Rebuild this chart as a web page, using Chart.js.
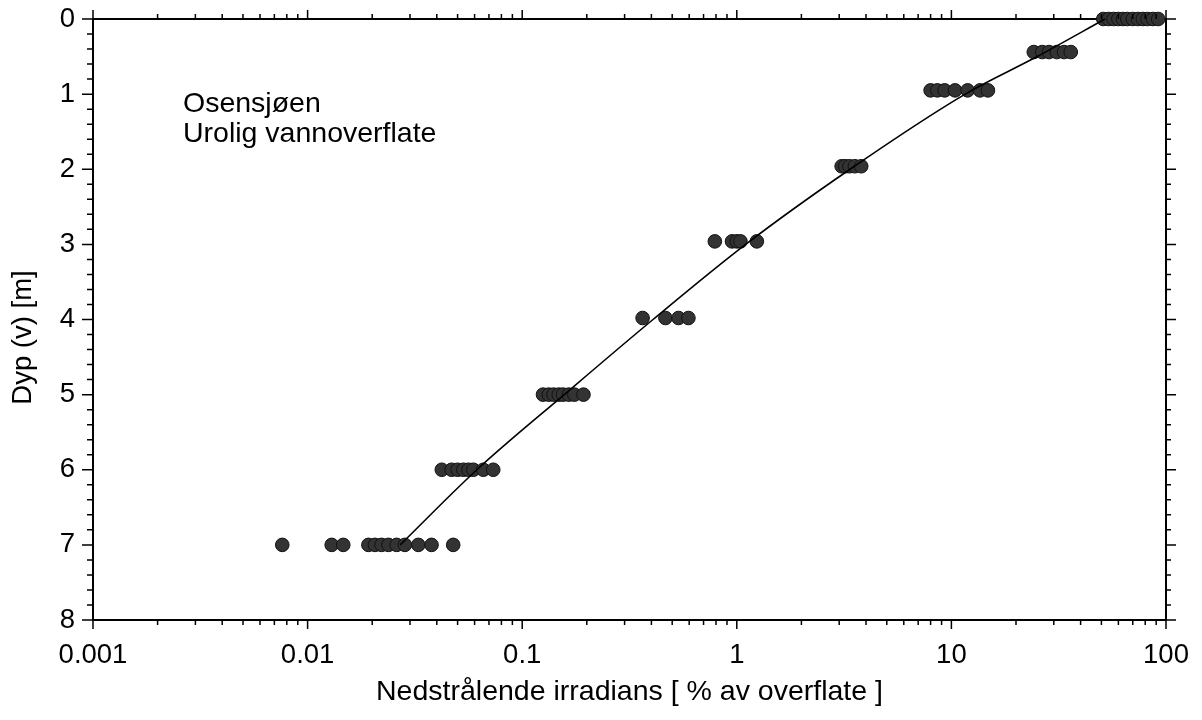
<!DOCTYPE html>
<html>
<head>
<meta charset="utf-8">
<script src="https://cdn.jsdelivr.net/npm/chart.js@4.4.1/dist/chart.umd.min.js"></script>
<style>
html,body{margin:0;padding:0;background:#fff;}
#wrap{width:1202px;height:720px;position:relative;}
</style>
</head>
<body>
<div id="wrap"><canvas id="c" width="1202" height="720"></canvas></div>
<script>
// ---- data ----
const xTickLabels = ['0.001', '0.01', '0.1', '1', '10', '100'];
const yTickLabels = ['0', '1', '2', '3', '4', '5', '6', '7', '8'];

// measured depths of each profile level [m]
const rowDepths = [0, 0.44, 0.95, 1.96, 2.96, 3.98, 5.0, 6.0, 7.0];
// measured downwelling irradiance at each level [% of surface]
const irr0m   = [51, 54, 57, 60, 63, 66, 70, 74, 78, 82, 87, 92];
const irr044m = [24.2, 26.5, 28.5, 31, 33.5, 36];
const irr095m = [8.0, 8.6, 9.3, 10.4, 11.9, 13.6, 14.8];
const irr196m = [3.08, 3.2, 3.35, 3.55, 3.8];
const irr296m = [0.79, 0.95, 1.0, 1.04, 1.24];
const irr398m = [0.364, 0.465, 0.535, 0.595];
const irr5m   = [0.125, 0.133, 0.14, 0.148, 0.155, 0.165, 0.175, 0.193];
const irr6m   = [0.0422, 0.0469, 0.05, 0.0532, 0.0562, 0.0592, 0.0659, 0.0733];
const irr7m   = [0.00762, 0.01295, 0.01466, 0.0192, 0.0206, 0.0221, 0.0238, 0.026, 0.0284, 0.0328, 0.0378, 0.0477];

// fitted curve drawn through the profile
const fitDepth = [7, 6, 5, 4, 3, 2, 1, 0.5, 0];
const fitIrr   = [0.027, 0.0615, 0.157, 0.407, 1.10, 3.37, 11.6, 25.1, 52];

const annotationLines = ['Osensjøen', 'Urolig vannoverflate'];
const xTitle = 'Nedstrålende irradians [ % av overflate ]';
const yTitle = 'Dyp (v) [m]';

// ---- build library data ----
const rows = [irr0m, irr044m, irr095m, irr196m, irr296m, irr398m, irr5m, irr6m, irr7m];
const obsPoints = [];
rows.forEach((arr, i) => arr.forEach(v => obsPoints.push({x: v, y: rowDepths[i]})));
const fitPoints = fitIrr.map((v, i) => ({x: v, y: fitDepth[i]})).sort((a, b) => a.x - b.x);

const FONT = 'Liberation Sans, Arial, Helvetica, sans-serif';

const tickMarks = {
  id: 'tickMarks',
  afterDraw(chart) {
    const ctx = chart.ctx;
    const ca = chart.chartArea;
    const xs = chart.scales.x, ys = chart.scales.y;
    ctx.save();
    ctx.strokeStyle = '#000';
    ctx.lineWidth = 1.5;
    ctx.beginPath();
    // log ticks on bottom and top
    for (let d = -3; d <= 2; d++) {
      for (let m = 1; m <= 9; m++) {
        const v = m * Math.pow(10, d);
        if (v > 100.0001) break;
        const px = xs.getPixelForValue(v);
        const major = m === 1;
        const lb = major ? 9 : 5;
        ctx.moveTo(px, ca.bottom); ctx.lineTo(px, ca.bottom + lb);
        ctx.moveTo(px, ca.top); ctx.lineTo(px, ca.top - lb);
      }
    }
    // linear ticks on left and right
    for (let k = 0; k <= 40; k++) {
      const v = k * 0.2;
      const py = ys.getPixelForValue(v);
      const major = k % 5 === 0;
      const ll = major ? 11 : 6;
      const lr = major ? 10 : 5;
      ctx.moveTo(ca.left, py); ctx.lineTo(ca.left - ll, py);
      ctx.moveTo(ca.right, py); ctx.lineTo(ca.right + lr, py);
    }
    ctx.stroke();

    ctx.fillStyle = '#000';
    // y-axis title (rotated), centred a little below the plot middle as in the reference
    ctx.save();
    ctx.font = '27.5px ' + FONT;
    ctx.textAlign = 'center';
    ctx.textBaseline = 'middle';
    ctx.translate(23, (ca.top + ca.bottom) / 2 + 18);
    ctx.rotate(-Math.PI / 2);
    ctx.fillText(yTitle, 0, 0);
    ctx.restore();

    // annotation text
    ctx.font = '28.5px ' + FONT;
    ctx.textAlign = 'left';
    ctx.textBaseline = 'alphabetic';
    annotationLines.forEach((t, i) => {
      ctx.fillText(t, ca.left + 90, ca.top + 93 + i * 30);
    });
    ctx.restore();
  }
};

new Chart(document.getElementById('c'), {
  type: 'scatter',
  data: {
    datasets: [
      {
        type: 'line',
        data: fitPoints,
        borderColor: '#000',
        borderWidth: 1.6,
        pointRadius: 0,
        fill: false,
        cubicInterpolationMode: 'monotone',
        clip: false
      },
      {
        data: obsPoints,
        pointRadius: 6.8,
        pointBackgroundColor: '#333',
        pointBorderColor: '#111',
        pointBorderWidth: 1,
        clip: false
      }
    ]
  },
  options: {
    responsive: false,
    animation: false,
    devicePixelRatio: 1,
    layout: {padding: 0},
    plugins: {legend: {display: false}, tooltip: {enabled: false}},
    scales: {
      x: {
        type: 'logarithmic',
        position: 'bottom',
        min: 0.001,
        max: 100,
        grid: {display: false, drawTicks: true, tickLength: 19, tickColor: 'rgba(0,0,0,0)'},
        border: {display: true, color: '#000', width: 2},
        ticks: {
          autoSkip: false,
          maxRotation: 0,
          padding: 0,
          color: '#000',
          font: {family: FONT, size: 27.5},
          callback: (v) => {
            const l = Math.log10(v);
            if (Math.abs(l - Math.round(l)) < 1e-9) {
              const idx = Math.round(l) + 3;
              return xTickLabels[idx] !== undefined ? xTickLabels[idx] : '';
            }
            return '';
          }
        },
        title: {
          display: true,
          text: xTitle,
          color: '#000',
          font: {family: FONT, size: 28.5},
          padding: {top: 0, bottom: 11}
        },
        afterFit: (s) => { s.height = 100; }
      },
      x2: {
        type: 'logarithmic',
        position: 'top',
        min: 0.001,
        max: 100,
        grid: {display: false, drawTicks: false},
        border: {display: true, color: '#000', width: 2},
        ticks: {display: false},
        afterFit: (s) => { s.height = 19; }
      },
      y: {
        type: 'linear',
        position: 'left',
        min: 0,
        max: 8,
        reverse: true,
        grid: {display: false, drawTicks: true, tickLength: 18, tickColor: 'rgba(0,0,0,0)'},
        border: {display: true, color: '#000', width: 2},
        ticks: {
          stepSize: 1,
          padding: 0,
          color: '#000',
          font: {family: FONT, size: 27.5},
          callback: (v) => yTickLabels[Math.round(v)] !== undefined ? yTickLabels[Math.round(v)] : ''
        },
        title: {display: false, text: yTitle},
        afterFit: (s) => { s.width = 93; }
      },
      y2: {
        type: 'linear',
        position: 'right',
        min: 0,
        max: 8,
        reverse: true,
        grid: {display: false, drawTicks: false},
        border: {display: true, color: '#000', width: 2},
        ticks: {display: false},
        afterFit: (s) => { s.width = 36; }
      }
    }
  },
  plugins: [tickMarks]
});
</script>
</body>
</html>
